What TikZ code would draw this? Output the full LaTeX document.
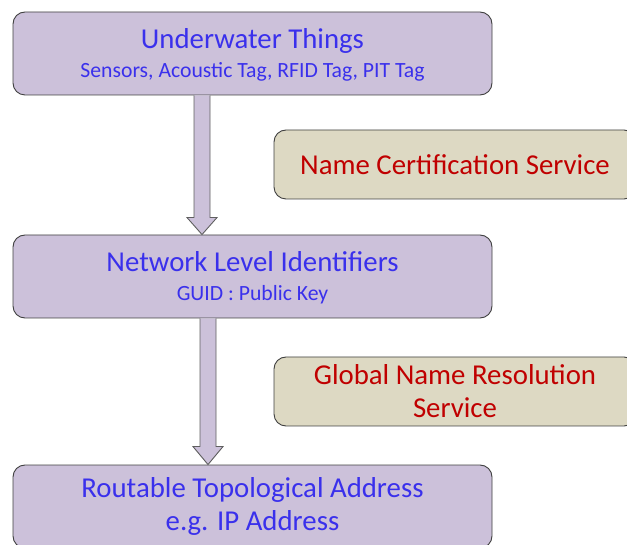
\documentclass[tikz,border=0pt]{standalone}
\usepackage{fontspec}
\setmainfont{Carlito}
\usetikzlibrary{calc}

\definecolor{lav}{HTML}{CCC1DA}
\definecolor{sand}{HTML}{DDD9C3}
\definecolor{inkblue}{HTML}{3A30EC}
\definecolor{inkred}{HTML}{C00000}
\definecolor{edge}{HTML}{404040}
\definecolor{arrowedge}{HTML}{5F5F5F}

\newcommand\bigtxt{\fontsize{28.8}{29}\selectfont}
\newcommand\smalltxt{\fontsize{21.7}{29}\selectfont}
\newcommand\twoline{\fontsize{28.8}{33}\selectfont}

\begin{document}
\begin{tikzpicture}[x=1pt,y=-1pt,
  layerbox/.style={draw=edge, line width=0.9pt, fill=lav, rounded corners=12pt,
    minimum width=479pt, minimum height=83pt, inner sep=0pt, align=center,
    text=inkblue, font=\bigtxt},
  servicebox/.style={draw=edge, line width=0.9pt, fill=sand, rounded corners=12pt,
    minimum width=362pt, minimum height=69pt, inner sep=0pt, align=center,
    text=inkred, font=\twoline},
  fatarrow/.style={draw=arrowedge, line width=0.9pt, fill=lav, line join=miter}
]
\useasboundingbox (0,0) rectangle (627,545);
\clip (0,0) rectangle (627,545);

% layers
\node[layerbox, text depth=-4.5pt] (things) at (252.5,53.5)
  {Underwater Things\\\smalltxt Sensors, Acoustic Tag, RFID Tag, PIT Tag};
\node[layerbox, text depth=-4.5pt] (ids) at (252.5,276.5)
  {Network Level Identifiers\\\smalltxt GUID : Public Key};
\node[layerbox, font=\twoline] (addr) at (252.5,506.5)
  {Routable Topological Address\\e.g. IP Address};

% services on the right
\node[servicebox] (cert) at (455,164.5) {Name Certification Service};
\node[servicebox] (gnrs) at (455,391.5) {Global Name Resolution\\Service};

% block arrows between layers
\coordinate (a1) at (202,0);
\coordinate (a2) at (208,0);
\draw[fatarrow]
  ($(a1 |- things.south)+(-8,0)$) -- ($(a1 |- ids.north)+(-8,-17)$)
  -- ($(a1 |- ids.north)+(-15,-17)$) -- (a1 |- ids.north)
  -- ($(a1 |- ids.north)+(15,-17)$) -- ($(a1 |- ids.north)+(8,-17)$)
  -- ($(a1 |- things.south)+(8,0)$);
\draw[fatarrow]
  ($(a2 |- ids.south)+(-8,0)$) -- ($(a2 |- addr.north)+(-8,-18)$)
  -- ($(a2 |- addr.north)+(-15,-18)$) -- (a2 |- addr.north)
  -- ($(a2 |- addr.north)+(15,-18)$) -- ($(a2 |- addr.north)+(8,-18)$)
  -- ($(a2 |- ids.south)+(8,0)$);
\end{tikzpicture}
\end{document}
